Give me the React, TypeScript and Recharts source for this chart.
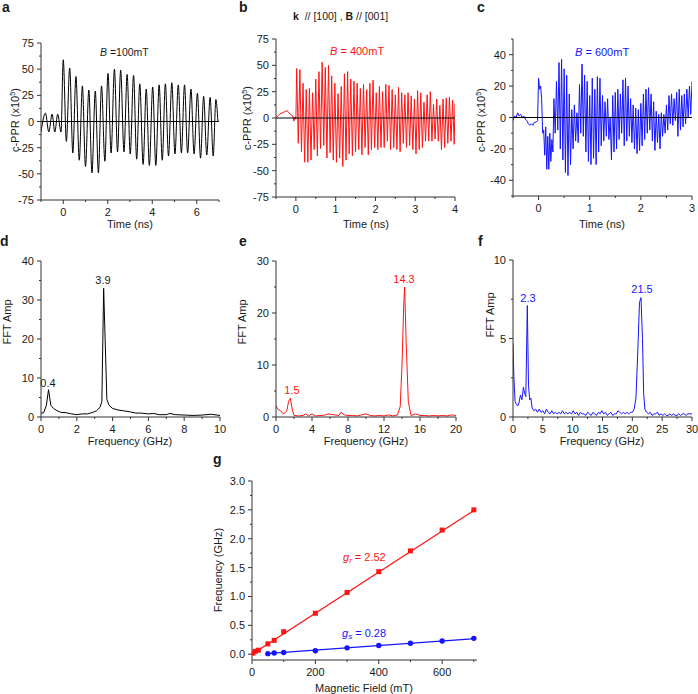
import { LineChart, Line, XAxis, YAxis, ReferenceLine, ComposedChart, Scatter } from 'recharts';

// ---- panel a : B = 100 mT time trace
const aTime = [-1, -0.8, -0.65, -0.5, -0.38, -0.25, -0.1,
  0, 0.14, 0.29, 0.43, 0.57, 0.72, 0.86, 1.0, 1.15, 1.29,
  1.44, 1.58, 1.72, 1.87, 2.01, 2.15, 2.3, 2.44, 2.58, 2.73,
  2.87, 3.01, 3.16, 3.3, 3.44, 3.59, 3.73, 3.87, 4.02, 4.16,
  4.31, 4.45, 4.59, 4.73, 4.88, 5.02, 5.17, 5.31, 5.45, 5.59,
  5.74, 5.88, 6.03, 6.17, 6.31, 6.45, 6.6, 6.74, 6.86, 6.95];
const aPPR = [-10, 8, -10, 7, -10, 7, -10,
  59, -19, 51, -30, 43, -37, 34, -43, 30, -49,
  29, -49, 34, -38, 46, -30, 50, -29, 49, -29,
  45, -31, 44, -36, 36, -41, 31, -42, 33, -42,
  35, -37, 36, -33, 37, -31, 35, -30, 35, -30,
  31, -31, 27, -35, 24, -32, 23, -33, 21, 0];

// ---- panel b : B = 400 mT time trace
const bTime = [-0.5, -0.45, -0.4, -0.33, -0.28, -0.22, -0.18, -0.12, -0.08, -0.05, -0.02, 0,
  0.02, 0.06, 0.1, 0.14, 0.18, 0.22, 0.26, 0.3, 0.34, 0.38, 0.42, 0.46, 0.5, 0.54, 0.58, 0.62, 0.66, 0.7, 0.74, 0.78,
  0.82, 0.86, 0.9, 0.94, 0.98, 1.02, 1.06, 1.1, 1.14, 1.18, 1.22, 1.26, 1.3, 1.34, 1.38, 1.42, 1.46, 1.5, 1.54, 1.58,
  1.62, 1.66, 1.7, 1.74, 1.78, 1.82, 1.86, 1.9, 1.94, 1.98, 2.02, 2.06, 2.1, 2.14, 2.18, 2.22, 2.26, 2.3, 2.34, 2.38,
  2.42, 2.46, 2.5, 2.54, 2.58, 2.62, 2.66, 2.7, 2.74, 2.78, 2.82, 2.86, 2.9, 2.94, 2.98, 3.02, 3.06, 3.1, 3.14, 3.18,
  3.22, 3.26, 3.3, 3.34, 3.38, 3.42, 3.46, 3.5, 3.54, 3.58, 3.62, 3.66, 3.7, 3.74, 3.78, 3.82, 3.86, 3.9, 3.94, 3.98,
  4.0];
const bPPR = [0, 2, 4, 5, 6, 7, 5, 3, 2, -3, 1, -1,
  47, -24, 46, -32, 33, -42, 27, -42, 28, -40, 24, -30, 37, -36, 44, -29, 53, -26, 48, -38,
  50, -33, 40, -40, 33, -42, 23, -38, 30, -46, 42, -40, 44, -34, 37, -36, 35, -32, 33, -30,
  28, -35, 32, -28, 27, -35, 33, -30, 36, -28, 24, -30, 30, -28, 25, -28, 32, -22, 31, -30,
  27, -28, 22, -30, 29, -32, 24, -24, 22, -28, 24, -26, 21, -30, 18, -34, 26, -30, 24, -28,
  15, -22, 22, -22, 25, -22, 13, -20, 18, -22, 12, -30, 18, -28, 19, -24, 20, -22, 17, -25,
  14];

// ---- panel c : B = 600 mT time trace
const cTime = [-0.5, -0.47, -0.44, -0.41, -0.38, -0.35, -0.32, -0.29, -0.26, -0.23, -0.2, -0.17, -0.14, -0.11, -0.08, -0.05, -0.02,
  0, 0.02, 0.04, 0.06, 0.08, 0.1, 0.12, 0.14, 0.16, 0.18, 0.2, 0.22, 0.24, 0.26, 0.28,
  0.3, 0.325, 0.35, 0.375, 0.4, 0.425, 0.45, 0.475, 0.5, 0.525, 0.55, 0.575, 0.6, 0.625, 0.65, 0.675, 0.7, 0.725, 0.75, 0.775,
  0.8, 0.825, 0.85, 0.875, 0.9, 0.925, 0.95, 0.975, 1, 1.025, 1.05, 1.075, 1.1, 1.125, 1.15, 1.175, 1.2, 1.225, 1.25, 1.275,
  1.3, 1.325, 1.35, 1.375, 1.4, 1.425, 1.45, 1.475, 1.5, 1.525, 1.55, 1.575, 1.6, 1.625, 1.65, 1.675, 1.7, 1.725, 1.75, 1.775,
  1.8, 1.825, 1.85, 1.875, 1.9, 1.925, 1.95, 1.975, 2, 2.025, 2.05, 2.075, 2.1, 2.125, 2.15, 2.175, 2.2, 2.225, 2.25, 2.275,
  2.3, 2.325, 2.35, 2.375, 2.4, 2.425, 2.45, 2.475, 2.5, 2.525, 2.55, 2.575, 2.6, 2.625, 2.65, 2.675, 2.7, 2.725, 2.75, 2.775,
  2.8, 2.825, 2.85, 2.875, 2.9, 2.925, 2.95, 2.975, 3];
const cPPR = [-2, 1, 0, 3, 1, 2, 0, 1, -1, -2, -4, -5, -4, -5, -3, -3, -2,
  25, 18, 20, 12, -10, -8, -24, -6, -33, -12, -33, -10, -28, -14, -22,
  12, -10, 23, -8, 35, -20, 37, -27, 31, -35, 27, -37, 15, -30, 5, -20, 8, -15, 3, -16,
  21, -10, 34, -12, 27, -22, 23, -28, 14, -30, 25, -26, 18, -30, 26, -22, 25, -18, 14, -15,
  10, -12, 12, -14, 0, -27, 14, -22, 16, -20, 18, -14, 15, -10, 24, -18, 25, -15, 20, -12,
  12, -16, 8, -20, 6, -23, 5, -21, 9, -18, 15, -14, 18, -10, 19, -8, 15, -15, 10, -21,
  4, -16, 2, -20, 3, -12, 2, -10, 8, -8, 14, -4, 15, -5, 12, -2, 16, -12, 18, -8,
  14, -6, 15, -4, 18, 0, 20, 2, 23];

// ---- FFT spectra (d, e, f)
const dFreq = [0, 0.15, 0.3, 0.42, 0.55, 0.7, 0.9, 1.1, 1.4, 1.7, 2.0, 2.3, 2.6, 2.9, 3.1, 3.3, 3.4, 3.5, 3.68, 3.8,
  4.0, 4.3, 4.6, 5.0, 5.3, 5.6, 6.0, 6.3, 6.6, 7.0, 7.2, 7.5, 8.0, 8.5, 9.0, 9.5, 10];
const dAmp = [1, 1.1, 3, 7, 3, 2.2, 1.6, 1.2, 1.1, 0.8, 0.6, 0.8, 0.8, 1.2, 1.6, 2.5, 4, 33, 4.5, 3,
  2.2, 1.8, 1.6, 1.3, 1.0, 1.0, 0.8, 0.9, 0.6, 0.6, 0.9, 0.6, 0.5, 0.4, 0.5, 0.7, 0.4];

const eFreq = [0, 0.2, 0.5, 0.8, 1.0, 1.2, 1.4, 1.6, 1.8, 2.0, 2.5, 3.0, 3.3, 3.6, 4.0, 4.4, 5.0, 5.5, 5.8, 6.2,
  6.5, 7.0, 7.2, 7.6, 8.0, 8.5, 9.0, 9.5, 10, 10.5, 11, 11.5, 12, 12.5, 13, 13.5, 13.8, 14.0, 14.2, 14.3,
  14.45, 14.7, 15, 15.5, 16, 16.5, 17, 17.5, 18, 18.5, 19, 19.5, 20];
const eAmp = [2.2, 1.5, 1.2, 0.6, 0.8, 1.2, 3.0, 3.6, 1.5, 0.3, 0.2, 0.3, 0.6, 0.2, 0.6, 0.2, 0.3, 0.4, 0.6, 0.5,
  0.4, 0.3, 0.9, 0.4, 0.3, 0.3, 0.2, 0.4, 0.6, 0.3, 0.2, 0.3, 0.2, 0.4, 0.2, 0.4, 2.0, 10, 22, 25,
  15, 3, 0.3, 0.6, 0.3, 0.3, 0.2, 0.3, 0.2, 0.3, 0.2, 0.4, 0.3];

const fFreq = [0, 0.15, 0.35, 0.55, 0.8, 1.0, 1.25, 1.5, 1.75, 1.95, 2.15, 2.4, 2.6, 2.8, 3.0, 3.2,
  3.5, 3.8, 4.1, 4.4, 4.7, 5.0, 5.3, 5.6, 5.9, 6.2, 6.5, 6.8, 7.1, 7.4, 7.7, 8.0, 8.3, 8.6, 8.9, 9.2,
  9.5, 9.8, 10.1, 10.4, 10.7, 11.0, 11.3, 11.6, 11.9, 12.2, 12.5, 12.8, 13.1, 13.4, 13.7, 14.0, 14.3, 14.6, 14.9, 15.2,
  15.5, 15.8, 16.1, 16.4, 16.7, 17.0, 17.3, 17.6, 17.9, 18.2, 18.5, 18.8, 19.1, 19.4, 19.7, 20.0,
  20.3, 20.6, 20.9, 21.2, 21.45, 21.7, 21.9, 22.1,
  22.4, 22.7, 23.0, 23.3, 23.6, 23.9, 24.2, 24.5, 24.8, 25.1, 25.4, 25.7, 26.0, 26.3, 26.6, 26.9, 27.2, 27.5, 27.8, 28.1,
  28.4, 28.7, 29.0, 29.3, 29.6, 30];
const fAmp = [4.7, 2.5, 1.0, 0.8, 0.7, 0.9, 1.4, 1.1, 1.9, 1.5, 1.3, 7.1, 2.0, 1.1, 1.2, 0.6,
  0.4, 0.5, 0.3, 0.5, 0.3, 0.4, 0.2, 0.5, 0.3, 0.2, 0.4, 0.2, 0.3, 0.2, 0.3, 0.2, 0.4, 0.2, 0.3, 0.2,
  0.3, 0.2, 0.4, 0.2, 0.3, 0.1, 0.3, 0.2, 0.2, 0.1, 0.3, 0.2, 0.1, 0.3, 0.2, 0.1, 0.3, 0.2, 0.4, 0.2,
  0.3, 0.1, 0.2, 0.3, 0.1, 0.2, 0.2, 0.4, 0.3, 0.2, 0.3, 0.2, 0.3, 0.2, 0.3, 0.3,
  0.5, 1.2, 4.0, 7.3, 7.6, 5.0, 1.5, 0.5,
  0.3, 0.2, 0.3, 0.1, 0.2, 0.2, 0.3, 0.1, 0.2, 0.1, 0.2, 0.1, 0.1, 0.2, 0.1, 0.2, 0.1, 0.1, 0.2, 0.1,
  0.2, 0.2, 0.1, 0.2, 0.2, 0.2];

// ---- panel g : frequency vs field
const gField = [3, 10, 20, 50, 70, 100, 200, 300, 400, 500, 600, 700];
const gRot = [0.02, 0.05, 0.07, 0.18, 0.24, 0.39, 0.71, 1.07, 1.43, 1.79, 2.15, 2.5];
const gSpinField = [50, 70, 100, 200, 300, 400, 500, 600, 700];
const gSpin = [0.01, 0.02, 0.03, 0.06, 0.11, 0.15, 0.19, 0.23, 0.275];
const gRotFitField = [0, 700];
const gRotFit = [0, 2.49];
const gSpinFitField = [45, 705];
const gSpinFit = [0.01, 0.27];

// ---- tick positions
const tickYTrace = [-75, -62.5, -50, -37.5, -25, -12.5, 0, 12.5, 25, 37.5, 50, 62.5, 75];
const majYTrace = [-75, -50, -25, 0, 25, 50, 75];
const tickXa = [-1, 0, 1, 2, 3, 4, 5, 6, 7];
const majXa = [0, 2, 4, 6];
const tickXb = [-0.5, 0, 0.5, 1, 1.5, 2, 2.5, 3, 3.5, 4];
const majXb = [0, 1, 2, 3, 4];
const tickXc = [-0.5, 0, 0.5, 1, 1.5, 2, 2.5, 3];
const majXc = [0, 1, 2, 3];
const tickYc = [-50, -40, -30, -20, -10, 0, 10, 20, 30, 40, 50];
const majYc = [-40, -20, 0, 20, 40];
const tickXd = [0, 1, 2, 3, 4, 5, 6, 7, 8, 9, 10];
const majXd = [0, 2, 4, 6, 8, 10];
const tickYd = [0, 5, 10, 15, 20, 25, 30, 35, 40];
const majYd = [0, 10, 20, 30, 40];
const tickXe = [0, 2, 4, 6, 8, 10, 12, 14, 16, 18, 20];
const majXe = [0, 4, 8, 12, 16, 20];
const tickYe = [0, 5, 10, 15, 20, 25, 30];
const majYe = [0, 10, 20, 30];
const tickXf = [0, 2.5, 5, 7.5, 10, 12.5, 15, 17.5, 20, 22.5, 25, 27.5, 30];
const majXf = [0, 5, 10, 15, 20, 25, 30];
const tickYf = [0, 2.5, 5, 7.5, 10];
const majYf = [0, 5, 10];
const tickXg = [0, 100, 200, 300, 400, 500, 600, 700];
const majXg = [0, 200, 400, 600];
const tickYg = [0, 0.25, 0.5, 0.75, 1, 1.25, 1.5, 1.75, 2, 2.25, 2.5, 2.75, 3];
const majYg = [0, 0.5, 1, 1.5, 2, 2.5, 3];

const AXIS = '#333';
const TXT = '#1a1a1a';
const RED = '#ff1414';
const BLUE = '#1414ff';
const FONT = '"Liberation Sans", Arial, sans-serif';

type Pt = { t: number; v: number };
const zip = (xs: number[], ys: number[]): Pt[] => xs.map((t, i) => ({ t, v: ys[i] }));

// axis ticks drawn by hand so that minor ticks are shorter and unlabeled
function makeTick(side: 'x' | 'y', majors: number[], fmt: (v: number) => string = String) {
  return function Tick(props: any) {
    const { x, y, payload } = props;
    const v = payload.value as number;
    const major = majors.some((m) => Math.abs(m - v) < 1e-9);
    const len = major ? 4 : 2;
    if (side === 'x') {
      return (
        <g>
          <line x1={x} x2={x} y1={y} y2={y + len} stroke={AXIS} />
          {major && (
            <text x={x} y={y + 16} textAnchor="middle" fontSize={11} fill={TXT} fontFamily={FONT}>{fmt(v)}</text>
          )}
        </g>
      );
    }
    return (
      <g>
        <line x1={x} x2={x - len} y1={y} y2={y} stroke={AXIS} />
        {major && (
          <text x={x - 7} y={y + 4} textAnchor="end" fontSize={11} fill={TXT} fontFamily={FONT}>{fmt(v)}</text>
        )}
      </g>
    );
  };
}

type Rect = { x0: number; y0: number; x1: number; y1: number };
const YW = 40, MT = 8, MR = 10, XH = 26;
function box(r: Rect) {
  return { left: r.x0 - YW, top: r.y0 - MT, width: r.x1 - r.x0 + YW + MR, height: r.y1 - r.y0 + MT + XH };
}

type PanelProps = {
  rect: Rect; data: Pt[]; color: string; curve: 'monotone' | 'linear';
  xDomain: [number, number]; xTicks: number[]; xMajors: number[];
  yDomain: [number, number]; yTicks: number[]; yMajors: number[];
  zero?: boolean;
};

function Panel(p: PanelProps) {
  const { left, top, width, height } = box(p.rect);
  return (
    <div style={{ position: 'absolute', left, top, width, height }}>
      <LineChart width={width} height={height} data={p.data} margin={{ top: MT, right: MR, bottom: 0, left: 0 }}>
        <XAxis dataKey="t" type="number" domain={p.xDomain} ticks={p.xTicks} interval={0} allowDataOverflow
          height={XH} tickLine={false} tickSize={0} tickMargin={0} axisLine={{ stroke: AXIS }}
          tick={makeTick('x', p.xMajors)} />
        <YAxis type="number" domain={p.yDomain} ticks={p.yTicks} interval={0} allowDataOverflow
          width={YW} tickLine={false} tickSize={0} tickMargin={0} axisLine={{ stroke: AXIS }}
          tick={makeTick('y', p.yMajors)} />
        <Line type={p.curve} dataKey="v" stroke={p.color} strokeWidth={1} dot={false} isAnimationActive={false} />
        {p.zero && <ReferenceLine y={0} stroke="#000" strokeWidth={1} />}
      </LineChart>
    </div>
  );
}

function FieldPanel({ rect }: { rect: Rect }) {
  const { left, top, width, height } = box(rect);
  const rotPts = gField.map((x, i) => ({ x, y: gRot[i] }));
  const spinPts = gSpinField.map((x, i) => ({ x, y: gSpin[i] }));
  const rotFit = gRotFitField.map((x, i) => ({ x, y: gRotFit[i] }));
  const spinFit = gSpinFitField.map((x, i) => ({ x, y: gSpinFit[i] }));
  return (
    <div style={{ position: 'absolute', left, top, width, height }}>
      <ComposedChart width={width} height={height} margin={{ top: MT, right: MR, bottom: 0, left: 0 }}>
        <XAxis dataKey="x" type="number" domain={[0, 710]} ticks={tickXg} interval={0} allowDataOverflow
          height={XH} tickLine={false} tickSize={0} tickMargin={0} axisLine={{ stroke: AXIS }}
          tick={makeTick('x', majXg)} />
        <YAxis dataKey="y" type="number" domain={[-0.1, 3]} ticks={tickYg} interval={0} allowDataOverflow
          width={YW} tickLine={false} tickSize={0} tickMargin={0} axisLine={{ stroke: AXIS }}
          tick={makeTick('y', majYg, (v) => v.toFixed(1))} />
        <Line data={rotFit} dataKey="y" type="linear" stroke={RED} strokeWidth={1.2} dot={false} isAnimationActive={false} />
        <Line data={spinFit} dataKey="y" type="linear" stroke={BLUE} strokeWidth={1.2} dot={false} isAnimationActive={false} />
        <Scatter data={rotPts} dataKey="y" isAnimationActive={false}
          shape={(s: any) => <rect x={s.cx - 2.5} y={s.cy - 2.5} width={5} height={5} fill={RED} />} />
        <Scatter data={spinPts} dataKey="y" isAnimationActive={false}
          shape={(s: any) => <circle cx={s.cx} cy={s.cy} r={2.7} fill={BLUE} />} />
      </ComposedChart>
    </div>
  );
}

function VLabel({ x, y, children }: { x: number; y: number; children: any }) {
  return (
    <text transform={`translate(${x},${y}) rotate(-90)`} textAnchor="middle" fontSize={11} fill={TXT}>{children}</text>
  );
}

function PprLabel({ x, y }: { x: number; y: number }) {
  return (
    <VLabel x={x} y={y}>
      c-PPR (x10<tspan fontSize={7.5} dy={-4}>5</tspan><tspan dy={4}>)</tspan>
    </VLabel>
  );
}

export default function App() {
  return (
    <div style={{ position: 'absolute', left: 0, top: 0, width: 698, height: 694, background: '#fff', fontFamily: FONT }}>
      <Panel rect={{ x0: 41, y0: 43, x1: 219, y1: 200 }} data={zip(aTime, aPPR)} color="#000" curve="monotone"
        xDomain={[-1, 7]} xTicks={tickXa} xMajors={majXa} yDomain={[-75, 75]} yTicks={tickYTrace} yMajors={majYTrace} zero />
      <Panel rect={{ x0: 276, y0: 39, x1: 455, y1: 197 }} data={zip(bTime, bPPR)} color={RED} curve="linear"
        xDomain={[-0.5, 4]} xTicks={tickXb} xMajors={majXb} yDomain={[-75, 75]} yTicks={tickYTrace} yMajors={majYTrace} zero />
      <Panel rect={{ x0: 513, y0: 39, x1: 692, y1: 196 }} data={zip(cTime, cPPR)} color={BLUE} curve="linear"
        xDomain={[-0.5, 3]} xTicks={tickXc} xMajors={majXc} yDomain={[-50, 50]} yTicks={tickYc} yMajors={majYc} zero />

      <Panel rect={{ x0: 41, y0: 261, x1: 220, y1: 417 }} data={zip(dFreq, dAmp)} color="#000" curve="linear"
        xDomain={[0, 10]} xTicks={tickXd} xMajors={majXd} yDomain={[0, 40]} yTicks={tickYd} yMajors={majYd} />
      <Panel rect={{ x0: 276, y0: 261, x1: 456, y1: 417 }} data={zip(eFreq, eAmp)} color={RED} curve="linear"
        xDomain={[0, 20]} xTicks={tickXe} xMajors={majXe} yDomain={[0, 30]} yTicks={tickYe} yMajors={majYe} />
      <Panel rect={{ x0: 513, y0: 260, x1: 692, y1: 417 }} data={zip(fFreq, fAmp)} color={BLUE} curve="linear"
        xDomain={[0, 30]} xTicks={tickXf} xMajors={majXf} yDomain={[0, 10]} yTicks={tickYf} yMajors={majYf} />

      <FieldPanel rect={{ x0: 252, y0: 481, x1: 477, y1: 660 }} />

      <svg width={698} height={694} style={{ position: 'absolute', left: 0, top: 0, pointerEvents: 'none' }}
        fontFamily={FONT} fill={TXT}>
        {/* panel letters */}
        <text x={2} y={11.5} fontSize={14} fontWeight="bold">a</text>
        <text x={239} y={11.5} fontSize={14} fontWeight="bold">b</text>
        <text x={477} y={11.5} fontSize={14} fontWeight="bold">c</text>
        <text x={0} y={246} fontSize={14} fontWeight="bold">d</text>
        <text x={239} y={246} fontSize={14} fontWeight="bold">e</text>
        <text x={478} y={246} fontSize={14} fontWeight="bold">f</text>
        <text x={213} y={464} fontSize={14} fontWeight="bold">g</text>

        {/* header over b */}
        <text x={293} y={20} fontSize={10.5} style={{ whiteSpace: 'pre' }}>
          <tspan fontWeight="bold">k</tspan>{'  // [100] , '}<tspan fontWeight="bold">B</tspan>{' // [001]'}
        </text>

        {/* field annotations */}
        <text x={100} y={56} fontSize={10.5} style={{ whiteSpace: 'pre' }}>
          <tspan fontStyle="italic">B</tspan>{' =100mT'}
        </text>
        <text x={330} y={55} fontSize={11} fill={RED} style={{ whiteSpace: 'pre' }}>
          <tspan fontStyle="italic">B</tspan>{' = 400mT'}
        </text>
        <text x={575} y={56} fontSize={11} fill={BLUE} style={{ whiteSpace: 'pre' }}>
          <tspan fontStyle="italic">B</tspan>{' = 600mT'}
        </text>

        {/* y axis titles */}
        <PprLabel x={19} y={120} />
        <PprLabel x={251} y={118} />
        <PprLabel x={485} y={120} />
        <VLabel x={11} y={322}>FFT Amp</VLabel>
        <VLabel x={246} y={322}>FFT Amp</VLabel>
        <VLabel x={494} y={315}>FFT Amp</VLabel>
        <VLabel x={222} y={570}>Frequency (GHz)</VLabel>

        {/* x axis titles */}
        <text x={130} y={228} fontSize={11} textAnchor="middle">Time (ns)</text>
        <text x={366} y={228} fontSize={11} textAnchor="middle">Time (ns)</text>
        <text x={602} y={228} fontSize={11} textAnchor="middle">Time (ns)</text>
        <text x={130} y={445} fontSize={11} textAnchor="middle">Frequency (GHz)</text>
        <text x={366} y={445} fontSize={11} textAnchor="middle">Frequency (GHz)</text>
        <text x={602} y={445} fontSize={11} textAnchor="middle">Frequency (GHz)</text>
        <text x={364} y={692} fontSize={11} textAnchor="middle">Magnetic Field (mT)</text>

        {/* peak labels */}
        <text x={48} y={387} fontSize={11} textAnchor="middle">0.4</text>
        <text x={103} y={284} fontSize={11} textAnchor="middle">3.9</text>
        <text x={292} y={394} fontSize={11} textAnchor="middle" fill={RED}>1.5</text>
        <text x={404} y={283} fontSize={11} textAnchor="middle" fill={RED}>14.3</text>
        <text x={528} y={302} fontSize={11} textAnchor="middle" fill={BLUE}>2.3</text>
        <text x={642} y={293} fontSize={11} textAnchor="middle" fill={BLUE}>21.5</text>

        {/* slopes in g */}
        <text x={343} y={561} fontSize={11} fill={RED} style={{ whiteSpace: 'pre' }}>
          <tspan fontStyle="italic">g</tspan><tspan fontStyle="italic" fontSize={8} dy={2}>r</tspan><tspan dy={-2}>{' = 2.52'}</tspan>
        </text>
        <text x={342} y={637} fontSize={11} fill={BLUE} style={{ whiteSpace: 'pre' }}>
          <tspan fontStyle="italic">g</tspan><tspan fontStyle="italic" fontSize={8} dy={2}>s</tspan><tspan dy={-2}>{' = 0.28'}</tspan>
        </text>
      </svg>
    </div>
  );
}
